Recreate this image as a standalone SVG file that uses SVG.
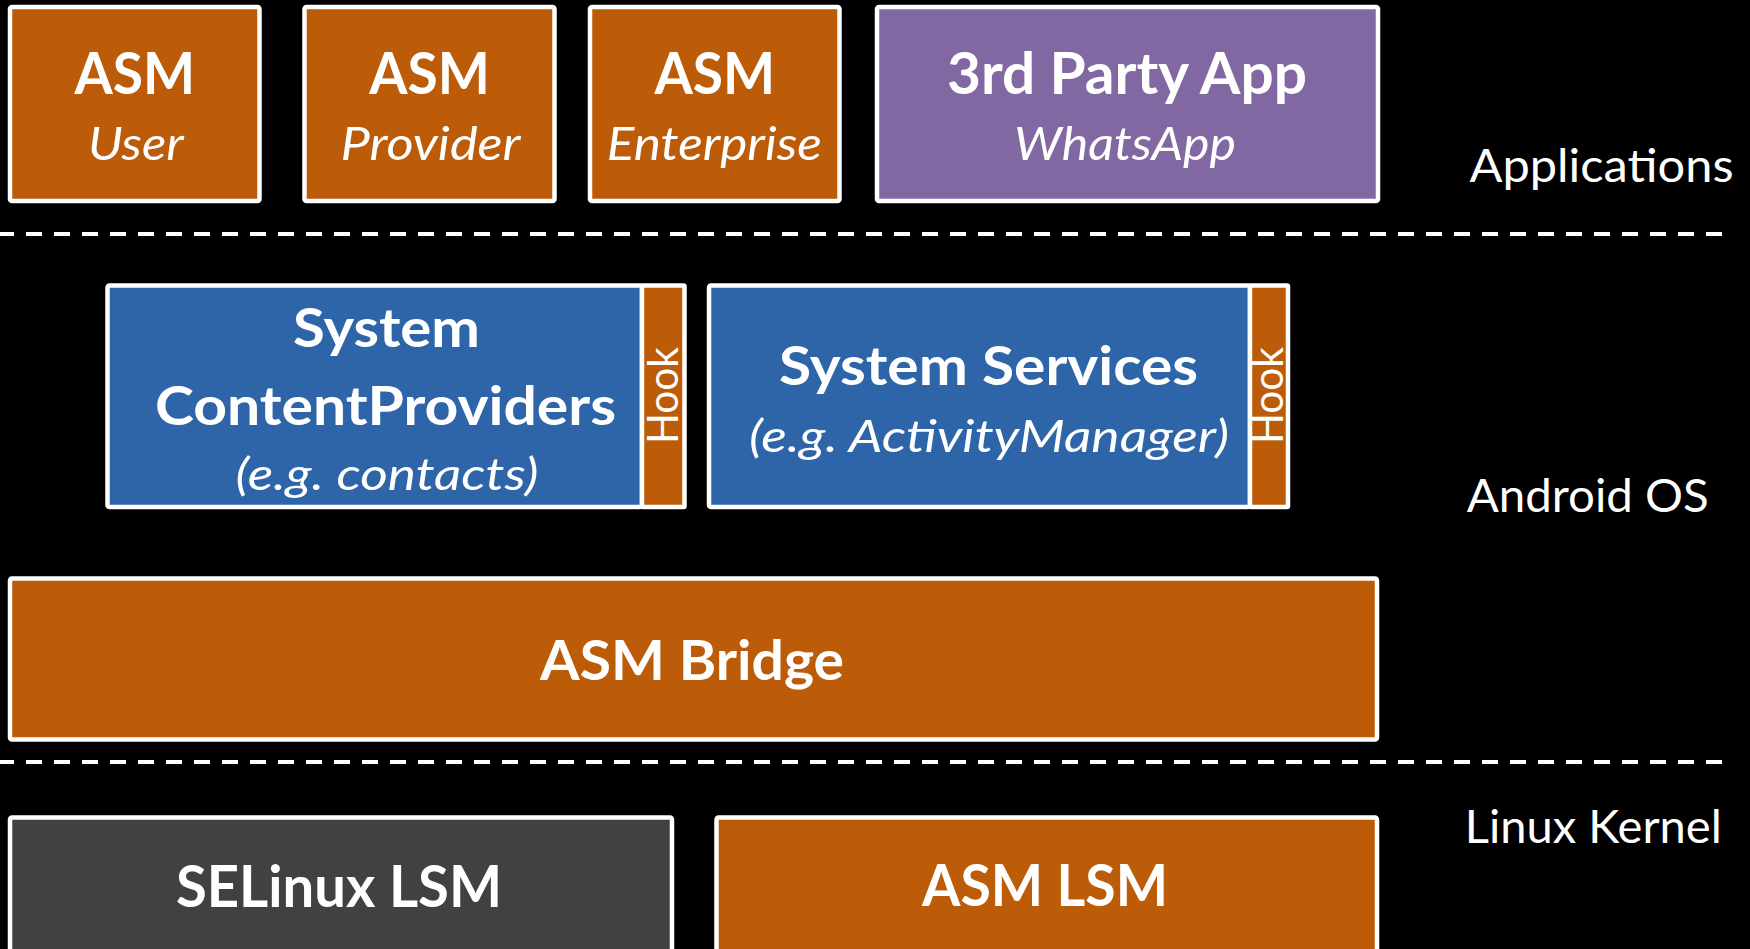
<svg xmlns="http://www.w3.org/2000/svg" width="1750" height="949" viewBox="0 0 1750 949">
  <style>
    .box { stroke: #ffffff; stroke-width: 4.5; }
    .orange { fill: #bc5b08; }
    .purple { fill: #8268a3; }
    .blue { fill: #2d65a8; }
    .gray { fill: #414141; }
    text { fill: #ffffff; font-family: Lato, "Open Sans", "Liberation Sans", sans-serif; }
    .title { font-weight: bold; text-anchor: middle; }
    .sub { font-style: italic; text-anchor: middle; }
    .layer { font-size: 46px; }
    .hook { font-size: 42px; text-anchor: middle; }
    .sep { stroke: #ffffff; stroke-width: 4; stroke-dasharray: 16 12; stroke-dashoffset: 2; fill: none; }
  </style>
  <rect width="1750" height="949" fill="#000000"/>

  <!-- layer separators -->
  <g id="separators">
    <line class="sep" x1="0" y1="234" x2="1722" y2="234"/>
    <line class="sep" x1="0" y1="762" x2="1722" y2="762"/>
  </g>

  <!-- layer labels -->
  <g id="layer-labels">
    <text class="layer" x="1469.5" y="182" textLength="264" lengthAdjust="spacingAndGlyphs">Applications</text>
    <text class="layer" x="1466.7" y="511.5" textLength="242" lengthAdjust="spacingAndGlyphs">Android OS</text>
    <text class="layer" x="1464.8" y="843" textLength="257" lengthAdjust="spacingAndGlyphs">Linux Kernel</text>
  </g>

  <!-- application layer -->
  <g id="asm-user">
    <rect class="box orange" x="10" y="7" width="249.5" height="194" rx="2"/>
    <text class="title" x="134.7" y="94" font-size="57" textLength="120.6" lengthAdjust="spacingAndGlyphs">ASM</text>
    <text class="sub" x="135.8" y="160" font-size="47" textLength="95.7" lengthAdjust="spacingAndGlyphs">User</text>
  </g>
  <g id="asm-provider">
    <rect class="box orange" x="304.5" y="7" width="250" height="194" rx="2"/>
    <text class="title" x="429.5" y="94" font-size="57" textLength="120.6" lengthAdjust="spacingAndGlyphs">ASM</text>
    <text class="sub" x="430.5" y="160" font-size="47" textLength="180" lengthAdjust="spacingAndGlyphs">Provider</text>
  </g>
  <g id="asm-enterprise">
    <rect class="box orange" x="590" y="7" width="249.5" height="194" rx="2"/>
    <text class="title" x="714.8" y="94" font-size="57" textLength="120.6" lengthAdjust="spacingAndGlyphs">ASM</text>
    <text class="sub" x="714.3" y="160" font-size="47" textLength="215" lengthAdjust="spacingAndGlyphs">Enterprise</text>
  </g>
  <g id="third-party-app">
    <rect class="box purple" x="877" y="7" width="501" height="194" rx="2"/>
    <text class="title" x="1127" y="93.5" font-size="57" textLength="360" lengthAdjust="spacingAndGlyphs">3rd Party App</text>
    <text class="sub" x="1125" y="160" font-size="47" textLength="222" lengthAdjust="spacingAndGlyphs">WhatsApp</text>
  </g>

  <!-- Android OS layer -->
  <g id="system-content-providers">
    <rect class="box blue" x="107.5" y="285.5" width="534.5" height="221.5" rx="2"/>
    <rect class="box orange" x="642" y="285.5" width="42.5" height="221.5" rx="1"/>
    <text class="title" x="386.5" y="346.5" font-size="53" textLength="187" lengthAdjust="spacingAndGlyphs">System</text>
    <text class="title" x="385.5" y="425" font-size="53" textLength="461" lengthAdjust="spacingAndGlyphs">ContentProviders</text>
    <text class="sub" x="387" y="490" font-size="45" textLength="303" lengthAdjust="spacingAndGlyphs">(e.g. contacts)</text>
    <text class="hook" transform="translate(678,395.5) rotate(-90)" textLength="97" lengthAdjust="spacingAndGlyphs">Hook</text>
  </g>
  <g id="system-services">
    <rect class="box blue" x="709" y="285.5" width="541" height="221.5" rx="2"/>
    <rect class="box orange" x="1250" y="285.5" width="38" height="221.5" rx="1"/>
    <text class="title" x="988.5" y="385" font-size="53" textLength="419" lengthAdjust="spacingAndGlyphs">System Services</text>
    <text class="sub" x="989" y="452" font-size="45" textLength="480" lengthAdjust="spacingAndGlyphs">(e.g. ActivityManager)</text>
    <text class="hook" transform="translate(1283,395.5) rotate(-90)" textLength="97" lengthAdjust="spacingAndGlyphs">Hook</text>
  </g>
  <g id="asm-bridge">
    <rect class="box orange" x="10" y="578.5" width="1367" height="161" rx="2"/>
    <text class="title" x="692" y="680" font-size="56" textLength="304" lengthAdjust="spacingAndGlyphs">ASM Bridge</text>
  </g>

  <!-- kernel layer -->
  <g id="selinux-lsm">
    <rect class="box gray" x="10" y="817.5" width="662" height="150" rx="2"/>
    <text class="title" x="339" y="906.5" font-size="58" textLength="326" lengthAdjust="spacingAndGlyphs">SELinux LSM</text>
  </g>
  <g id="asm-lsm">
    <rect class="box orange" x="716.5" y="817.5" width="660.5" height="150" rx="2"/>
    <text class="title" x="1045" y="905.5" font-size="58" textLength="246" lengthAdjust="spacingAndGlyphs">ASM LSM</text>
  </g>
</svg>
